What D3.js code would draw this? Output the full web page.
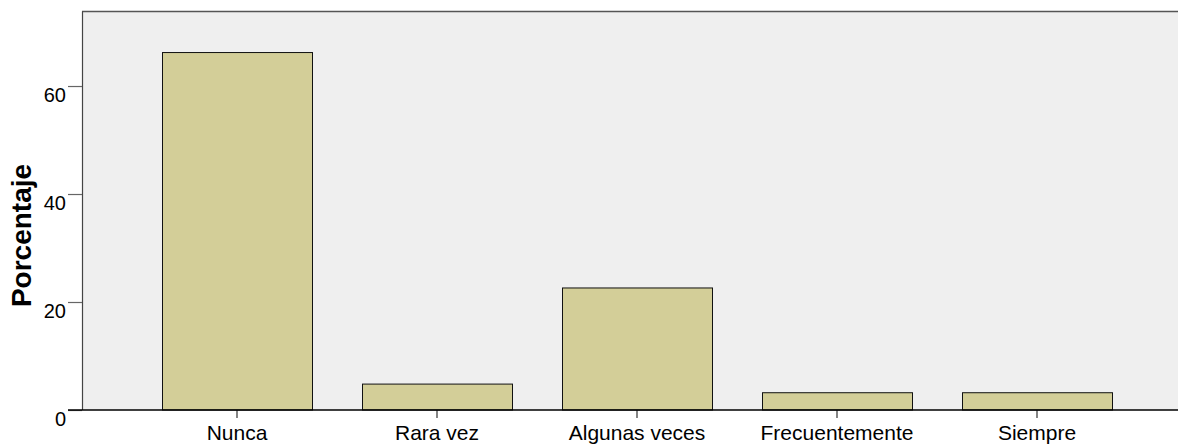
<!DOCTYPE html>
<html>
<head>
<meta charset="utf-8">
<script src="https://cdn.jsdelivr.net/npm/d3@7"></script>
<style>
  html, body { margin: 0; padding: 0; background: #ffffff; }
  svg { display: block; font-family: Arial, "Liberation Sans", sans-serif; }
</style>
</head>
<body>
<svg id="chart" width="1178" height="444"></svg>
<script>
const categories = ["Nunca", "Rara vez", "Algunas veces", "Frecuentemente", "Siempre"];
const values = [66.2, 4.8, 22.6, 3.2, 3.2];
const yTicks = [0, 20, 40, 60];
const yLabel = "Porcentaje";

const svg = d3.select("#chart");
const plotLeft = 82, plotRight = 1180, plotTop = 11.5, plotBottom = 410;

const x = d3.scaleBand().domain(categories).range([137, 1137])
  .paddingInner(0.25).paddingOuter(0.125);
const y = d3.scaleLinear().domain([0, 73.8]).range([plotBottom, plotTop]);

// plot background
svg.append("rect")
  .attr("x", plotLeft).attr("y", plotTop)
  .attr("width", plotRight - plotLeft).attr("height", plotBottom - plotTop)
  .attr("fill", "#efefef");

// frame: top and left
svg.append("line").attr("x1", plotLeft).attr("x2", plotRight)
  .attr("y1", plotTop).attr("y2", plotTop)
  .attr("stroke", "#555").attr("stroke-width", 1.5);
svg.append("line").attr("x1", plotLeft + 0.5).attr("x2", plotLeft + 0.5)
  .attr("y1", plotTop).attr("y2", plotBottom)
  .attr("stroke", "#444").attr("stroke-width", 1.2);

// bars
svg.append("g").selectAll("rect").data(values).join("rect")
  .attr("x", (d, i) => x(categories[i]) + 0.5)
  .attr("y", d => y(d))
  .attr("width", x.bandwidth())
  .attr("height", d => plotBottom - y(d))
  .attr("fill", "#d3ce98")
  .attr("stroke", "#111")
  .attr("stroke-width", 1);

// y axis
const yAxis = d3.axisLeft(y).tickValues(yTicks).tickSize(14).tickPadding(3);
const gy = svg.append("g").attr("transform", `translate(${plotLeft},0)`).call(yAxis);
gy.select(".domain").remove();
gy.selectAll(".tick line").attr("stroke", "#666").attr("stroke-width", 1.2);
gy.selectAll(".tick text")
  .attr("font-size", 20).attr("fill", "#000")
  .attr("dy", null).attr("y", 15.5).attr("x", -16);

// x axis
const xAxis = d3.axisBottom(x).tickSize(8).tickPadding(0);
const gx = svg.append("g").attr("transform", `translate(0,${plotBottom})`).call(xAxis);
gx.select(".domain").remove();
gx.selectAll(".tick line").attr("stroke", "#333").attr("stroke-width", 1.2);
gx.selectAll(".tick text")
  .attr("font-size", 21).attr("fill", "#000")
  .attr("dy", null).attr("y", 29.5);

svg.append("line").attr("x1", 68).attr("x2", plotRight)
  .attr("y1", plotBottom).attr("y2", plotBottom)
  .attr("stroke", "#000").attr("stroke-width", 1.5);

// y label
svg.append("text")
  .attr("transform", "translate(31,235.5) rotate(-90)")
  .attr("text-anchor", "middle")
  .attr("font-size", 28).attr("font-weight", "bold")
  .attr("fill", "#000")
  .text(yLabel);
</script>
</body>
</html>
